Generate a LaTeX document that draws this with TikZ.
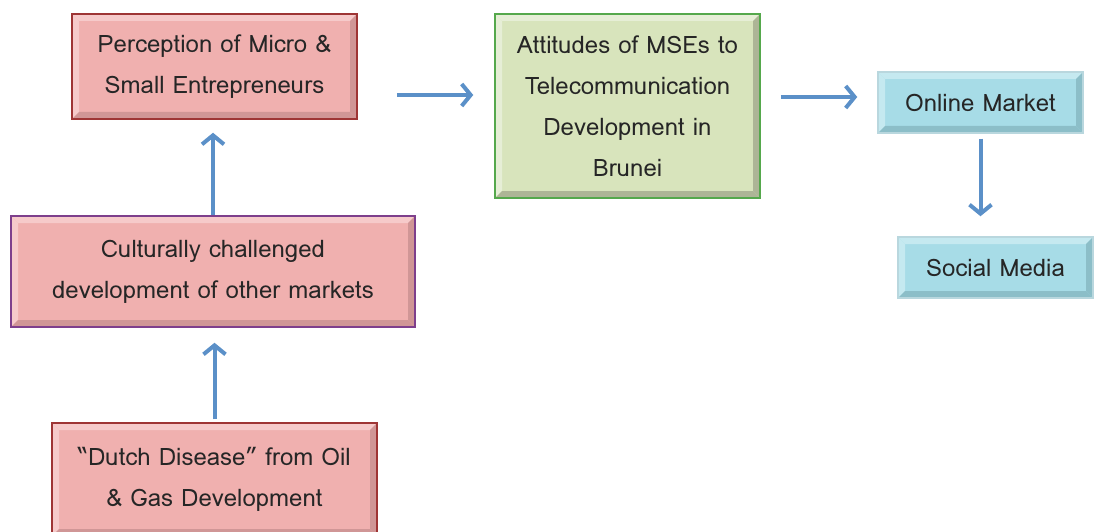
\documentclass[tikz,border=0pt]{standalone}
\usepackage{fontspec}
\setmainfont{Loma}
\usetikzlibrary{arrows.meta}
\definecolor{pinkf}{HTML}{F0B0AF}
\definecolor{pinkl}{HTML}{F6CACA}
\definecolor{pinkd}{HTML}{D09696}
\definecolor{greenf}{HTML}{D8E4BC}
\definecolor{greenl}{HTML}{E6EED6}
\definecolor{greend}{HTML}{ADB596}
\definecolor{bluef}{HTML}{A7DCE7}
\definecolor{bluel}{HTML}{C5E9F0}
\definecolor{blued}{HTML}{8CBEC8}
\definecolor{redb}{HTML}{9E3535}
\definecolor{purpb}{HTML}{7E3F8C}
\definecolor{greenb}{HTML}{55A84C}
\definecolor{blueb}{HTML}{B9D7DE}
\definecolor{arrowc}{HTML}{5B90C8}
\tikzset{
  bevel/.style n args={2}{path picture={
    \fill[#1] (path picture bounding box.north west) -- (path picture bounding box.north east)
      -- ([shift={(-7pt,-7pt)}]path picture bounding box.north east) -- ([shift={(7pt,-7pt)}]path picture bounding box.north west) -- cycle;
    \fill[#1] (path picture bounding box.north west) -- (path picture bounding box.south west)
      -- ([shift={(7pt,7pt)}]path picture bounding box.south west) -- ([shift={(7pt,-7pt)}]path picture bounding box.north west) -- cycle;
    \fill[#2] (path picture bounding box.north east) -- (path picture bounding box.south east)
      -- ([shift={(-7pt,7pt)}]path picture bounding box.south east) -- ([shift={(-7pt,-7pt)}]path picture bounding box.north east) -- cycle;
    \fill[#2] (path picture bounding box.south west) -- (path picture bounding box.south east)
      -- ([shift={(-7pt,7pt)}]path picture bounding box.south east) -- ([shift={(7pt,7pt)}]path picture bounding box.south west) -- cycle;
  }},
  box/.style={rectangle, line width=1.5pt, align=center, inner sep=0pt, text=black!85,
    font=\fontsize{24}{41}\selectfont},
  pinkbox/.style={box, fill=pinkf, bevel={pinkl}{pinkd}},
  greenbox/.style={box, fill=greenf, bevel={greenl}{greend}, draw=greenb},
  bluebox/.style={box, fill=bluef, bevel={bluel}{blued}, draw=blueb},
  arr/.style={draw=arrowc, line width=4pt, -{Straight Barb[length=9pt,width=22pt]}}
}
\begin{document}
\begin{tikzpicture}[x=1pt,y=-1pt]
\useasboundingbox (0,0) rectangle (1095,532);
\node[pinkbox, draw=redb, minimum width=285pt, minimum height=105pt] (perc) at (214.5,66.5)
  {Perception of Micro \&\\Small Entrepreneurs};
\node[pinkbox, draw=purpb, minimum width=404pt, minimum height=111pt] (cult) at (213,271.5)
  {Culturally challenged\\development of other markets};
\node[pinkbox, draw=redb, minimum width=325pt, minimum height=113pt] (dutch) at (214.5,479.5)
  {“Dutch Disease” from Oil\\\& Gas Development};
\node[greenbox, minimum width=265pt, minimum height=184pt] (att) at (627.5,106)
  {Attitudes of MSEs to\\Telecommunication\\Development in\\Brunei};
\node[bluebox, minimum width=205pt, minimum height=61pt] (online) at (980.5,102.5)
  {Online Market};
\node[bluebox, minimum width=195pt, minimum height=61pt] (social) at (995.5,267.5)
  {Social Media};
\draw[arr, shorten <=39pt, shorten >=21pt] (perc.east |- 0,95) -- (att.west |- 0,95);
\draw[arr, shorten <=20pt, shorten >=20pt] (att.east |- 0,97) -- (online.west |- 0,97);
\draw[arr, shorten <=5pt, shorten >=20pt] (online.south) -- (online.south |- social.north);
\draw[arr, shorten >=13pt] (cult.north) -- (cult.north |- perc.south);
\draw[arr, shorten <=3pt, shorten >=15pt] (dutch.north) -- (dutch.north |- cult.south);
\end{tikzpicture}
\end{document}
